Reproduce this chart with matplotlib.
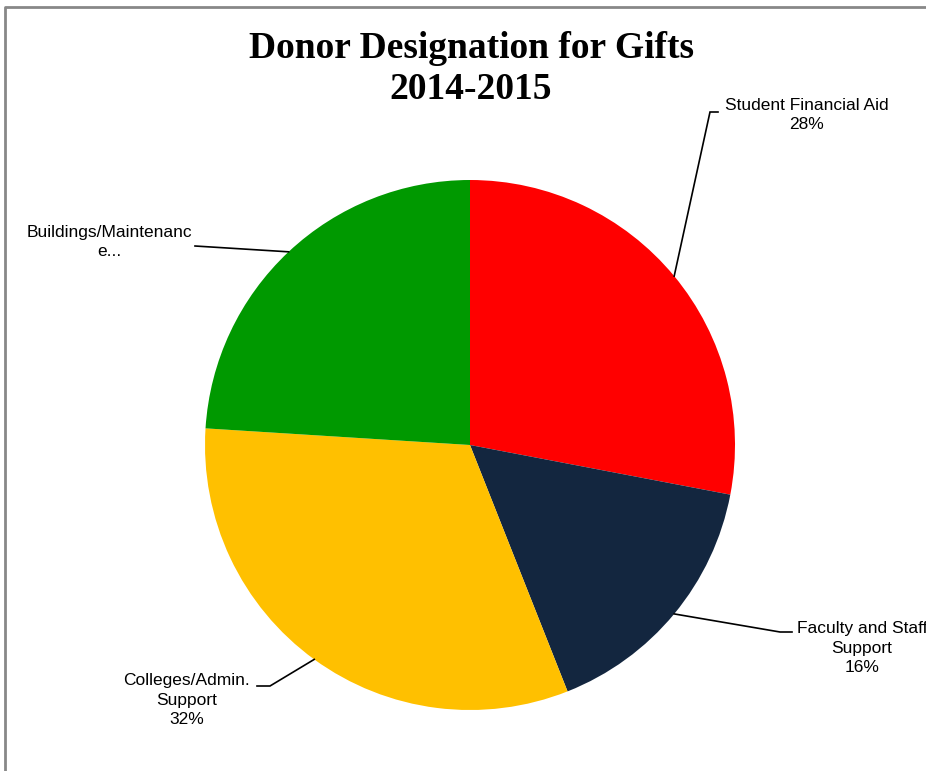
import numpy as np
import matplotlib
matplotlib.use("Agg")
import matplotlib.pyplot as plt

# data, clockwise from 12 o'clock
categories = ["Student Financial Aid", "Faculty and Staff\nSupport",
              "Colleges/Admin.\nSupport", "Buildings/Maintenance"]
shares = [28, 16, 32, 24]
colors = ["#FF0000", "#13263F", "#FFC000", "#009900"]
label_texts = ["Student Financial Aid\n28%", "Faculty and Staff\nSupport\n16%",
               "Colleges/Admin.\nSupport\n32%", "Buildings/Maintenanc\ne..."]

W, H = 926, 771
fig = plt.figure(figsize=(W / 100, H / 100), dpi=100)
ax = fig.add_axes([0, 0, 1, 1])
ax.set_xlim(0, W)
ax.set_ylim(0, H)
ax.set_aspect("equal")
ax.axis("off")

cx, cy, r = 470, H - 445, 265
wedges, _ = ax.pie(shares, colors=colors, startangle=90, counterclock=False,
                   center=(cx, cy), radius=r, frame=True)
ax.set_xlim(0, W)
ax.set_ylim(0, H)
ax.axis("off")

# leader line elbows and text anchors (pixel layout, y measured from top)
elbows = [(710, 112), (780, 632), (270, 686), (195, 246)]
ends = [(718, 112), (792, 632), (257, 686), (195, 246)]
text_pos = [(807, 115), (862, 648), (187, 700), (109, 242)]

for w, el, en, tp, txt in zip(wedges, elbows, ends, text_pos, label_texts):
    mid = np.deg2rad((w.theta1 + w.theta2) / 2)
    sx, sy = cx + r * np.cos(mid), cy + r * np.sin(mid)
    ax.plot([sx, el[0], en[0]], [sy, H - el[1], H - en[1]], color="black", lw=1.2,
            solid_joinstyle="miter")
    ax.text(tp[0], H - tp[1], txt, ha="center", va="center", fontsize=12.5,
            family="Liberation Sans", linespacing=1.38, clip_on=False)

fig.text(471 / W, 1 - 69 / H, "Donor Designation for Gifts\n2014-2015",
         ha="center", va="center", fontsize=27, fontweight="bold",
         family="Liberation Serif", linespacing=1.25)

# chart area border (top and left only visible)
ax.plot([5, 5, W], [0, H - 7, H - 7], color="#888888", lw=2, clip_on=False)

fig.savefig("out.png", dpi=100)
